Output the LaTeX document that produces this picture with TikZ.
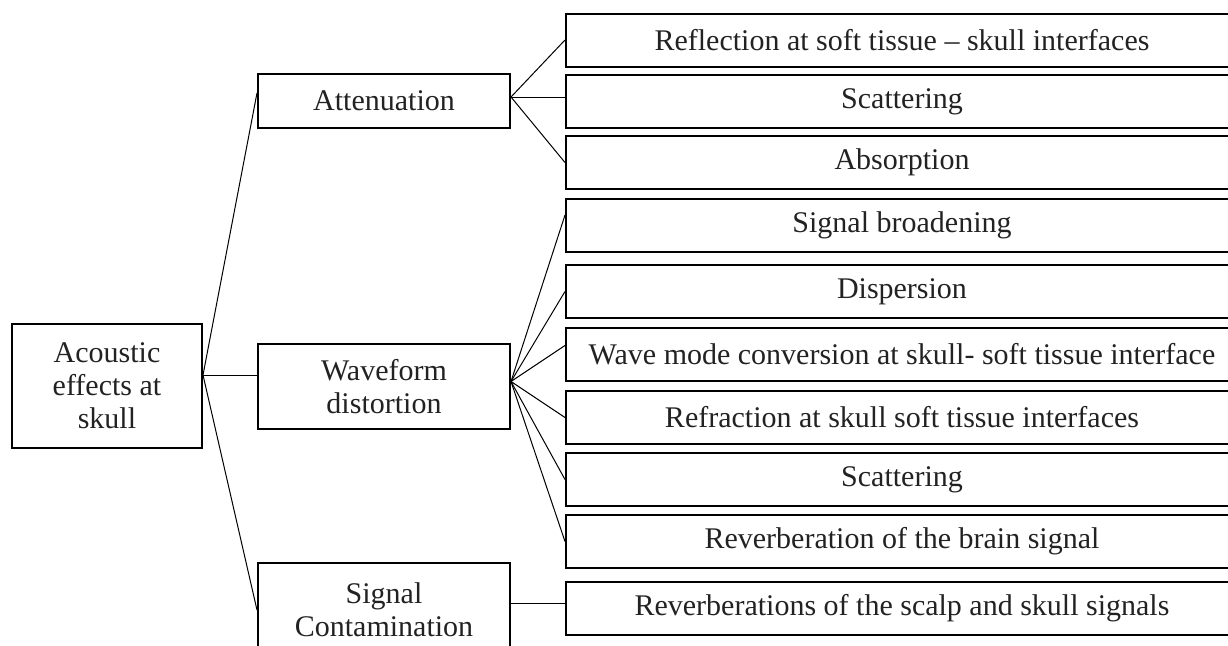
\documentclass[tikz,border=0pt]{standalone}
\usepackage{fontspec}
\setmainfont{Liberation Serif}
\usetikzlibrary{positioning, calc}
\definecolor{ink}{HTML}{222222}
\tikzset{
  box/.style={draw=black, line width=1pt, text=ink, align=center, inner sep=0pt,
    font=\fontsize{15}{16.5}\selectfont},
  midbox/.style={box, minimum width=126pt},
  leafbox/.style={box, minimum width=336pt, minimum height=26.5pt},
  link/.style={line width=0.5pt}
}

\begin{document}
\begin{tikzpicture}[x=0.5pt, y=-0.5pt]
\useasboundingbox (0,0) rectangle (1228,645);

% root and first level
\node[box, minimum width=95pt, minimum height=62pt] (root) at (107,386) {Acoustic\\effects at\\skull};
\node[midbox, minimum height=27pt] (atten) at (384,101) {Attenuation};
\node[midbox, minimum height=42.5pt] (wave) at (384,386.5) {Waveform\\distortion};
\node[midbox, minimum height=47pt] (contam) at (384,610) {Signal\\Contamination};

% second level
\node[leafbox] (reflect) at (902,40) {Reflection at soft tissue -- skull interfaces};
\node[leafbox] (scatA) at (902,101.5) {Scattering};
\node[leafbox] (absorb) at (902,162.5) {Absorption};
\node[leafbox] (broad) at (902,225) {Signal broadening};
\node[leafbox] (disp) at (902,291.5) {Dispersion};
\node[leafbox] (mode) at (902,354.5) {Wave mode conversion at skull- soft tissue interface};
\node[leafbox] (refract) at (902,417.5) {Refraction at skull soft tissue interfaces};
\node[leafbox] (scatB) at (902,479.5) {Scattering};
\node[leafbox] (brainrev) at (902,541.5) {Reverberation of the brain signal};
\node[leafbox] (scalprev) at (902,608) {Reverberations of the scalp and skull signals};

% connector ends
\coordinate (rootout) at ($(root.east)+(0,-11)$);
\coordinate (attin) at ($(atten.west)+(0,-8)$);
\coordinate (attout) at ($(atten.east)+(0,-4)$);
\coordinate (wavein) at (wave.west |- rootout);
\coordinate (waveout) at ($(wave.east)+(0,-5)$);
\coordinate (contout) at ($(contam.east)+(0,-7)$);

\draw[link] (rootout) -- (attin);
\draw[link] (rootout) -- (wavein);
\draw[link] (rootout) -- (contam.west);

\draw[link] (attout) -- (reflect.west);
\draw[link] (attout) -- (scatA.west |- attout);
\draw[link] (attout) -- (absorb.west);

\draw[link] (waveout) -- ($(broad.west)+(0,-10)$);
\draw[link] (waveout) -- (disp.west);
\draw[link] (waveout) -- ($(mode.west)+(0,-9)$);
\draw[link] (waveout) -- (refract.west);
\draw[link] (waveout) -- (scatB.west);
\draw[link] (waveout) -- (brainrev.west);

\draw[link] (contout) -- (scalprev.west |- contout);
\end{tikzpicture}
\end{document}
